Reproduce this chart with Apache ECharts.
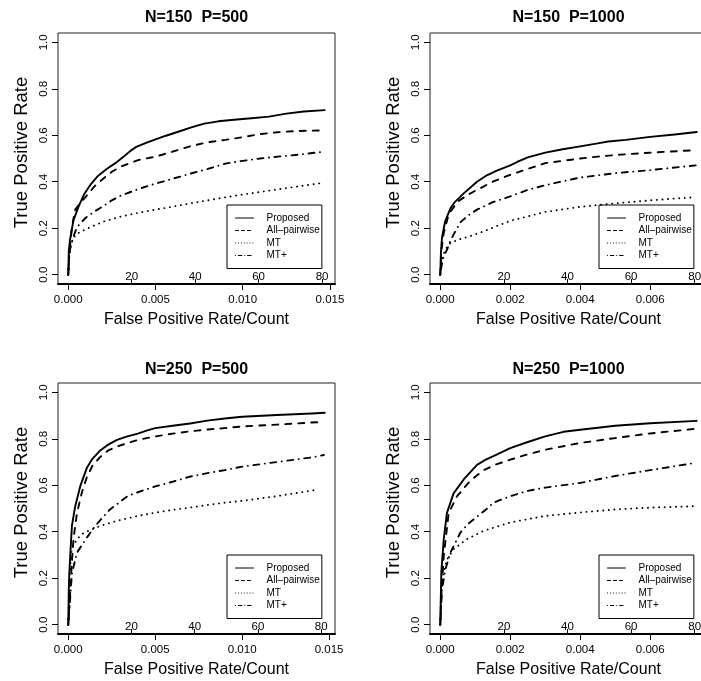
<!DOCTYPE html>
<html><head><meta charset="utf-8">
<script src="https://cdn.jsdelivr.net/npm/echarts@6/dist/echarts.min.js"></script>
<style>html,body{margin:0;padding:0;background:#fff;}#c{width:701px;height:681px;}</style>
</head><body><div id="c"></div>
<script>
// ---------- data ----------
const methods = ['Proposed', 'All–pairwise', 'MT', 'MT+'];
const panelTitles = ['N=150  P=500', 'N=150  P=1000', 'N=250  P=500', 'N=250  P=1000'];
const yTicks = [0, 0.2, 0.4, 0.6, 0.8, 1.0];
const xTicksP500 = [0, 0.005, 0.010, 0.015];
const xTicksP1000 = [0, 0.002, 0.004, 0.006];
const countTicks = [20, 40, 60, 80];
const countsPerRate = [5500, 11000, 5500, 11000];

// N=150 P=500
const a_prop_x = [0, 0.00003, 0.0001, 0.0003, 0.0006, 0.0009, 0.0013, 0.0017, 0.0022, 0.0027, 0.0032, 0.0036, 0.0039, 0.0045, 0.005, 0.0056, 0.0063, 0.0071, 0.0078, 0.0086, 0.0095, 0.0105, 0.0115, 0.0125, 0.0135, 0.0147];
const a_prop_y = [0, 0.10, 0.15, 0.235, 0.295, 0.345, 0.39, 0.425, 0.455, 0.48, 0.51, 0.535, 0.55, 0.568, 0.582, 0.598, 0.615, 0.635, 0.65, 0.66, 0.667, 0.673, 0.68, 0.693, 0.702, 0.708];
const a_pair_x = [0, 0.00005, 0.0001, 0.0002, 0.0004, 0.0007, 0.001, 0.0015, 0.002, 0.0025, 0.003, 0.004, 0.005, 0.006, 0.007, 0.008, 0.009, 0.010, 0.011, 0.012, 0.013, 0.0145];
const a_pair_y = [0, 0.08, 0.12, 0.2, 0.28, 0.31, 0.335, 0.38, 0.413, 0.443, 0.465, 0.493, 0.508, 0.53, 0.553, 0.57, 0.58, 0.592, 0.605, 0.613, 0.618, 0.621];
const a_mt_x = [0, 0.00005, 0.0001, 0.0002, 0.0004, 0.0007, 0.0012, 0.002, 0.003, 0.004, 0.005, 0.006, 0.007, 0.008, 0.009, 0.010, 0.011, 0.012, 0.013, 0.0144];
const a_mt_y = [0, 0.07, 0.11, 0.14, 0.17, 0.185, 0.202, 0.228, 0.25, 0.266, 0.28, 0.293, 0.307, 0.32, 0.333, 0.345, 0.356, 0.367, 0.378, 0.393];
const a_mtp_x = [0, 0.00005, 0.0001, 0.0003, 0.0005, 0.001, 0.0015, 0.002, 0.0025, 0.003, 0.004, 0.005, 0.006, 0.007, 0.008, 0.009, 0.010, 0.011, 0.012, 0.013, 0.0146];
const a_mtp_y = [0, 0.07, 0.11, 0.165, 0.205, 0.245, 0.272, 0.295, 0.32, 0.34, 0.368, 0.392, 0.413, 0.435, 0.455, 0.478, 0.49, 0.5, 0.508, 0.515, 0.529];

// N=150 P=1000
const b_prop_x = [0, 0.00002, 0.00005, 0.00014, 0.00029, 0.0004, 0.00067, 0.00105, 0.0013, 0.0016, 0.002, 0.0022, 0.0025, 0.003, 0.0035, 0.004, 0.0045, 0.0048, 0.0053, 0.006, 0.0067, 0.00733];
const b_prop_y = [0, 0.10, 0.16, 0.23, 0.285, 0.31, 0.35, 0.40, 0.425, 0.447, 0.47, 0.485, 0.505, 0.525, 0.54, 0.552, 0.565, 0.573, 0.58, 0.593, 0.603, 0.614];
const b_pair_x = [0, 0.00003, 0.0001, 0.00024, 0.0005, 0.0008, 0.00105, 0.0015, 0.002, 0.0025, 0.003, 0.0035, 0.004, 0.0045, 0.005, 0.006, 0.00729];
const b_pair_y = [0, 0.10, 0.18, 0.26, 0.315, 0.345, 0.365, 0.40, 0.43, 0.455, 0.48, 0.49, 0.50, 0.508, 0.515, 0.525, 0.536];
const b_mt_x = [0, 0.00005, 0.00014, 0.0003, 0.0006, 0.0009, 0.0013, 0.002, 0.003, 0.004, 0.005, 0.006, 0.0072];
const b_mt_y = [0, 0.065, 0.108, 0.138, 0.155, 0.168, 0.19, 0.232, 0.27, 0.292, 0.307, 0.32, 0.333];
const b_mtp_x = [0, 0.00005, 0.0001, 0.0002, 0.0003, 0.00057, 0.0008, 0.00105, 0.0015, 0.002, 0.0025, 0.003, 0.0035, 0.004, 0.005, 0.006, 0.00733];
const b_mtp_y = [0, 0.05, 0.08, 0.11, 0.15, 0.225, 0.255, 0.28, 0.312, 0.337, 0.365, 0.385, 0.402, 0.418, 0.437, 0.45, 0.471];

// N=250 P=500
const c_prop_x = [0, 0.00003, 0.00006, 0.000115, 0.00021, 0.0004, 0.00069, 0.00107, 0.0014, 0.00184, 0.0023, 0.0028, 0.0034, 0.004, 0.0045, 0.005, 0.006, 0.007, 0.008, 0.009, 0.010, 0.012, 0.014, 0.01475];
const c_prop_y = [0, 0.15, 0.22, 0.30, 0.425, 0.51, 0.596, 0.675, 0.715, 0.75, 0.775, 0.795, 0.81, 0.822, 0.835, 0.846, 0.856, 0.866, 0.878, 0.887, 0.895, 0.902, 0.909, 0.912];
const c_pair_x = [0, 0.00005, 0.000115, 0.0002, 0.0003, 0.0005, 0.00078, 0.00107, 0.0014, 0.00184, 0.0023, 0.0028, 0.004, 0.005, 0.006, 0.007, 0.008, 0.009, 0.010, 0.012, 0.0147];
const c_pair_y = [0, 0.07, 0.14, 0.26, 0.37, 0.48, 0.568, 0.635, 0.685, 0.722, 0.75, 0.767, 0.795, 0.81, 0.822, 0.832, 0.84, 0.846, 0.853, 0.861, 0.873];
const c_mt_x = [0, 0.00006, 0.00012, 0.00021, 0.0005, 0.00088, 0.00184, 0.0028, 0.004, 0.005, 0.006, 0.007, 0.008, 0.009, 0.010, 0.011, 0.012, 0.013, 0.0144];
const c_mt_y = [0, 0.154, 0.26, 0.33, 0.368, 0.395, 0.425, 0.447, 0.468, 0.482, 0.494, 0.504, 0.515, 0.525, 0.533, 0.543, 0.553, 0.565, 0.582];
const c_mtp_x = [0, 0.00008, 0.00021, 0.0005, 0.00107, 0.0015, 0.00184, 0.0024, 0.003, 0.0034, 0.004, 0.005, 0.006, 0.007, 0.008, 0.009, 0.010, 0.011, 0.012, 0.013, 0.014, 0.0147];
const c_mtp_y = [0, 0.083, 0.22, 0.31, 0.375, 0.42, 0.45, 0.496, 0.53, 0.553, 0.57, 0.595, 0.615, 0.637, 0.652, 0.665, 0.68, 0.69, 0.70, 0.71, 0.72, 0.73];

// N=250 P=1000
const d_prop_x = [0, 0.00003, 0.0001, 0.00019, 0.00038, 0.00067, 0.00105, 0.0013, 0.00152, 0.002, 0.00248, 0.003, 0.00352, 0.004, 0.005, 0.006, 0.00733];
const d_prop_y = [0, 0.225, 0.368, 0.48, 0.565, 0.625, 0.688, 0.71, 0.725, 0.76, 0.785, 0.81, 0.83, 0.839, 0.856, 0.867, 0.877];
const d_pair_x = [0, 0.00004, 0.0001, 0.00024, 0.00048, 0.00086, 0.00124, 0.0016, 0.002, 0.0025, 0.003, 0.004, 0.005, 0.006, 0.00724];
const d_pair_y = [0, 0.15, 0.297, 0.48, 0.553, 0.62, 0.665, 0.69, 0.71, 0.733, 0.753, 0.782, 0.803, 0.823, 0.842];
const d_mt_x = [0, 0.00002, 0.00005, 0.00019, 0.00038, 0.00076, 0.00124, 0.002, 0.003, 0.004, 0.005, 0.006, 0.00733];
const d_mt_y = [0, 0.12, 0.197, 0.28, 0.325, 0.368, 0.404, 0.44, 0.468, 0.483, 0.496, 0.504, 0.51];
const d_mtp_x = [0, 0.00005, 0.00015, 0.00029, 0.00057, 0.0008, 0.00105, 0.0013, 0.00152, 0.002, 0.00248, 0.003, 0.004, 0.005, 0.006, 0.00724];
const d_mtp_y = [0, 0.154, 0.24, 0.31, 0.395, 0.435, 0.465, 0.495, 0.525, 0.553, 0.575, 0.59, 0.61, 0.64, 0.665, 0.695];

// ---------- build ----------
const FONT = 'Liberation Sans, Arial, Helvetica, sans-serif';
const panels = [
  { xTicks: xTicksP500,  series: [[a_prop_x, a_prop_y], [a_pair_x, a_pair_y], [a_mt_x, a_mt_y], [a_mtp_x, a_mtp_y]] },
  { xTicks: xTicksP1000, series: [[b_prop_x, b_prop_y], [b_pair_x, b_pair_y], [b_mt_x, b_mt_y], [b_mtp_x, b_mtp_y]] },
  { xTicks: xTicksP500,  series: [[c_prop_x, c_prop_y], [c_pair_x, c_pair_y], [c_mt_x, c_mt_y], [c_mtp_x, c_mtp_y]] },
  { xTicks: xTicksP1000, series: [[d_prop_x, d_prop_y], [d_pair_x, d_pair_y], [d_mt_x, d_mt_y], [d_mtp_x, d_mtp_y]] }
];
const boxes = [
  { left: 58,  top: 33,  titleTop: 10 },
  { left: 430, top: 33,  titleTop: 10 },
  { left: 58,  top: 383, titleTop: 362 },
  { left: 430, top: 383, titleTop: 362 }
];
const BW = 277, BH = 251;
const seriesDash = ['solid', [6, 7], [0.1, 5.5], [0.1, 5.5, 6, 5.5]];
const legendDash = ['solid', [3, 3], [0.1, 2.8], [0.1, 2.8, 3.5, 2.8]];

const grid = [], xAxis = [], yAxis = [], series = [], title = [], legend = [];
panels.forEach((p, i) => {
  const b = boxes[i];
  grid.push({ left: b.left, top: b.top, width: BW, height: BH, show: true, borderColor: '#222', borderWidth: 1,
              containLabel: false, outerBoundsMode: 'none' });
  let dmax = 0;
  p.series.forEach(s => s[0].forEach(v => { if (v > dmax) dmax = v; }));
  const xmin = -0.04 * dmax, xmax = 1.04 * dmax;
  const k = countsPerRate[i];
  xAxis.push({
    gridIndex: i, type: 'value', position: 'bottom', min: xmin, max: xmax,
    axisLine: { show: false, onZero: false },
    axisTick: { show: true, length: 6, customValues: p.xTicks, lineStyle: { color: '#000' } },
    axisLabel: { customValues: p.xTicks, formatter: v => v.toFixed(3), color: '#000', fontSize: 11.5, fontFamily: FONT, margin: 10 },
    splitLine: { show: false },
    name: 'False Positive Rate/Count', nameLocation: 'middle', nameGap: 28,
    nameTextStyle: { fontSize: 16, color: '#000', fontFamily: FONT }
  });
  xAxis.push({
    gridIndex: i, type: 'value', position: 'bottom', min: xmin * k, max: xmax * k,
    axisLine: { show: true, onZero: false, lineStyle: { color: '#000', width: 2 } },
    axisTick: { show: true, inside: true, length: 5, customValues: countTicks, lineStyle: { color: '#000' } },
    axisLabel: { inside: true, customValues: countTicks, color: '#000', fontSize: 11.5, fontFamily: FONT, margin: 1 },
    splitLine: { show: false }
  });
  yAxis.push({
    gridIndex: i, type: 'value', min: -0.04, max: 1.04,
    axisLine: { show: false, onZero: false },
    axisTick: { show: true, length: 6, customValues: yTicks, lineStyle: { color: '#000' } },
    axisLabel: { customValues: yTicks, rotate: 90, formatter: v => v.toFixed(1), color: '#000', fontSize: 11.5, fontFamily: FONT, margin: 8 },
    splitLine: { show: false },
    name: 'True Positive Rate', nameLocation: 'middle', nameGap: 27,
    nameTextStyle: { fontSize: 18.5, color: '#000', fontFamily: FONT, padding: [0, 0, 0, 12] }
  });
  p.series.forEach((s, j) => {
    series.push({
      type: 'line', name: methods[j], xAxisIndex: 2 * i, yAxisIndex: i,
      data: s[0].map((x, n) => [x, s[1][n]]),
      symbol: 'none', showSymbol: false, smooth: false, silent: true, clip: true,
      lineStyle: { color: '#000', width: 1.9, type: seriesDash[j], cap: 'round', join: 'round' },
      itemStyle: { color: '#000' }
    });
  });
  title.push({
    text: panelTitles[i], left: b.left + BW / 2, top: b.titleTop, textAlign: 'center', padding: 0,
    textStyle: { fontSize: 16, fontWeight: 'bold', color: '#000', fontFamily: FONT }
  });
  legend.push({
    orient: 'vertical', left: b.left + 169, top: b.top + 172,
    data: methods.map((m, j) => ({ name: m, lineStyle: { width: 1, color: '#000', type: legendDash[j] } })),
    itemWidth: 18, itemHeight: 10, itemGap: 0.5,
    padding: [7, 2, 7, 8], borderColor: '#000', borderWidth: 1, borderRadius: 0,
    selectedMode: false,
    itemStyle: { opacity: 0, borderWidth: 0 },
    textStyle: { fontSize: 10, color: '#000', fontFamily: FONT, lineHeight: 12, padding: [0, 0, 0, 8] }
  });
});

const chart = echarts.init(document.getElementById('c'), null, { renderer: 'canvas' });
chart.setOption({
  animation: false,
  backgroundColor: '#fff',
  textStyle: { fontFamily: FONT },
  title, legend, grid, xAxis, yAxis, series
});
</script></body></html>
